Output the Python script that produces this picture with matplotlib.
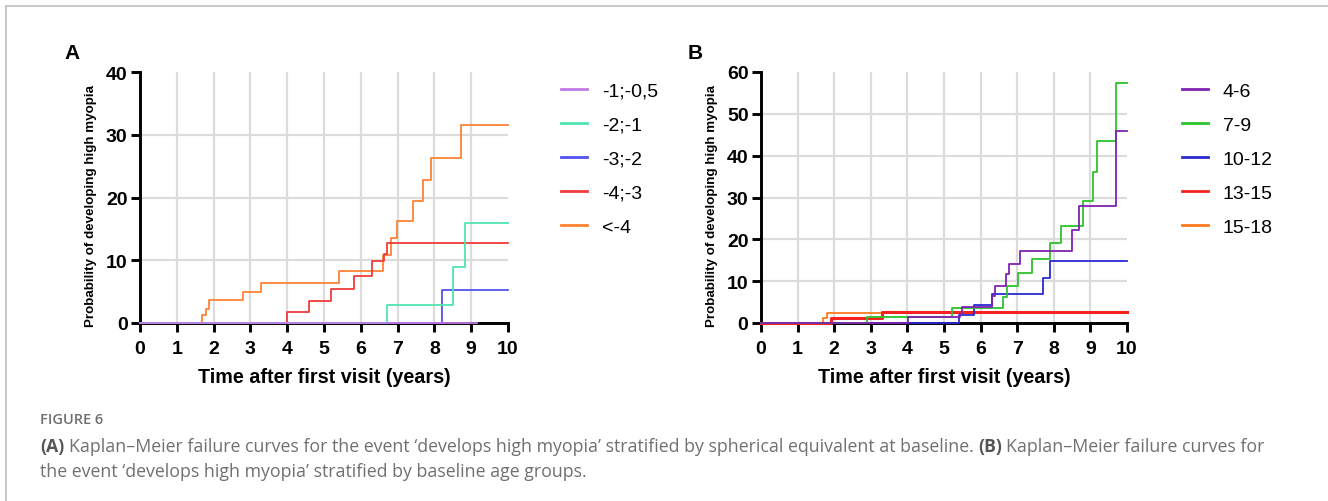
import matplotlib
matplotlib.use("Agg")
import matplotlib.pyplot as plt
from matplotlib.lines import Line2D
from matplotlib import font_manager

# ---- data ----
years = [0, 1, 2, 3, 4, 5, 6, 7, 8, 9, 10]

se_labels = ["-1;-0,5", "-2;-1", "-3;-2", "-4;-3", "<-4"]
se_colors = ["#c27ae6", "#4ee6ae", "#5252ee", "#f03c3c", "#ff8233"]
a_t1 = [0, 9.15]
a_v1 = [0, 0]
a_t2 = [0, 6.71, 8.51, 8.82, 10]
a_v2 = [0, 2.9, 9.0, 15.9, 15.9]
a_t3 = [0, 8.22, 10]
a_v3 = [0, 5.25, 5.25]
a_t4 = [0, 3.99, 4.60, 5.20, 5.82, 6.31, 6.63, 6.71, 10]
a_v4 = [0, 1.7, 3.5, 5.4, 7.5, 9.9, 11.0, 12.7, 12.7]
a_t5 = [0, 1.68, 1.78, 1.88, 2.80, 3.30, 5.40, 6.61, 6.81, 6.99, 7.41, 7.70, 7.91, 8.71, 10]
a_v5 = [0, 1.3, 2.3, 3.6, 4.9, 6.3, 8.3, 10.9, 13.6, 16.3, 19.5, 22.8, 26.3, 31.6, 31.6]

age_labels = ["4-6", "7-9", "10-12", "13-15", "15-18"]
age_colors = ["#7f22b0", "#2cc42c", "#2a2ad2", "#f52222", "#ff7a1e"]
b_t1 = [0, 4.01, 5.45, 5.49, 6.30, 6.38, 6.70, 6.78, 7.09, 8.51, 8.69, 9.71, 10]
b_v1 = [0, 1.4, 2.2, 3.75, 6.5, 8.9, 11.7, 14.2, 17.1, 22.2, 27.9, 46.0, 46.0]
b_t2 = [0, 2.89, 5.21, 6.61, 6.71, 7.03, 7.40, 7.90, 8.19, 8.79, 9.08, 9.19, 9.70, 10]
b_v2 = [0, 1.45, 3.5, 6.2, 8.8, 11.9, 15.3, 19.1, 23.3, 29.2, 36.2, 43.4, 57.4, 57.4]
b_t3 = [0, 5.40, 5.81, 6.30, 7.70, 7.90, 10]
b_v3 = [0, 1.9, 4.4, 6.9, 10.8, 14.8, 14.8]
b_t4 = [0, 1.91, 3.30, 10]
b_v4 = [0, 1.3, 2.7, 2.7]
b_t5 = [0, 1.70, 1.80, 10]
b_v5 = [0, 1.1, 2.4, 2.4]

# ---- fonts ----
installed = set(f.name for f in font_manager.fontManager.ttflist)
sans = "Liberation Sans"
cap_font = "Open Sans" if "Open Sans" in installed else "Noto Sans"
plt.rcParams["font.family"] = sans

W, H = 1328, 502
fig = plt.figure(figsize=(W / 100, H / 100), dpi=100)


def style_axes(ax, ymax, ystep):
    ax.set_xlim(0, 10)
    ax.set_ylim(0, ymax)
    ax.set_xticks(years)
    yt = list(range(0, ymax + 1, ystep))
    ax.set_yticks(yt)
    for s in ["top", "right"]:
        ax.spines[s].set_visible(False)
    for s in ["left", "bottom"]:
        ax.spines[s].set_linewidth(2.1)
    ax.tick_params(length=6.5, width=2.1, labelsize=14)
    ax.tick_params(axis="x", pad=6)
    ax.tick_params(axis="y", pad=2.5)
    for lab in ax.get_xticklabels() + ax.get_yticklabels():
        lab.set_fontweight("bold")
    for x in years[1:-1]:
        ax.axvline(x, color="#dcdcdc", lw=1.6, zorder=0)
    for y in yt[1:-1]:
        ax.axhline(y, color="#dcdcdc", lw=1.6, zorder=0)
    ax.set_xlabel("Time after first visit (years)", fontsize=14.2,
                  fontweight="bold", labelpad=7)
    ax.set_ylabel("Probability of developing high myopia", fontsize=9.6, fontweight="bold")


leg_kw = dict(loc="upper left", frameon=False, fontsize=14, handlelength=1.34,
              handletextpad=0.77, labelspacing=0.84, borderaxespad=0)

# ---- panel A ----
axA = fig.add_axes([140 / W, 1 - 324 / H, 368 / W, 251 / H])
style_axes(axA, 40, 10)
seriesA = [(a_t5, a_v5), (a_t4, a_v4), (a_t3, a_v3), (a_t2, a_v2), (a_t1, a_v1)]
colsA = se_colors[::-1]
for (t, v), c in zip(seriesA, colsA):
    axA.step(t, v, where="post", color=c, lw=1.3, zorder=3, clip_on=False)
axA.yaxis.set_label_coords(-43 / 368, 0.47)
handA = [Line2D([], [], color=c, lw=2) for c in se_colors]
fig.legend(handA, se_labels, bbox_to_anchor=(553 / W, 1 - 75.5 / H), **leg_kw)
fig.text(72.5 / W, 1 - 53.5 / H, "A", fontsize=15, fontweight="bold", ha="center", va="center")

# ---- panel B ----
axB = fig.add_axes([761 / W, 1 - 324 / H, 366 / W, 251 / H])
style_axes(axB, 60, 10)
seriesB = [(b_t5, b_v5, 1.3), (b_t4, b_v4, 2.2), (b_t3, b_v3, 1.3), (b_t2, b_v2, 1.3), (b_t1, b_v1, 1.3)]
colsB = age_colors[::-1]
for (t, v, lw), c in zip(seriesB, colsB):
    axB.step(t, v, where="post", color=c, lw=lw, zorder=3, clip_on=False)
axB.yaxis.set_label_coords(-43 / 366, 0.47)
handB = [Line2D([], [], color=c, lw=2) for c in age_colors]
fig.legend(handB, age_labels, bbox_to_anchor=(1174 / W, 1 - 75.5 / H), **leg_kw)
fig.text(695 / W, 1 - 53.5 / H, "B", fontsize=15, fontweight="bold", ha="center", va="center")

# ---- frame lines ----
fig.add_artist(Line2D([6 / W, 6 / W], [0, 1 - 7 / H], color="#c4c4c4", lw=1.3))
fig.add_artist(Line2D([6 / W, 1], [1 - 7 / H, 1 - 7 / H], color="#c4c4c4", lw=1.3))

# ---- caption ----
fig.text(40 / W, 1 - 420 / H, "FIGURE 6", fontsize=10.5, family=cap_font, fontweight="semibold",
         color="#6f6f6f", va="center")
renderer = fig.canvas.get_renderer()
gray = "#707070"
dark = "#555555"


def runs(x0, ypx, parts):
    x = x0
    for txt, bold in parts:
        t = fig.text(x / W, 1 - ypx / H, txt, fontsize=12.8, family=cap_font,
                     fontweight="bold" if bold else "normal",
                     color=dark if bold else gray, va="center")
        bb = t.get_window_extent(renderer)
        x += bb.width + 4.5


runs(40, 447, [("(A)", True),
               ("Kaplan\u2013Meier failure curves for the event \u2018develops high myopia\u2019 "
                "stratified by spherical equivalent at baseline.", False),
               ("(B)", True),
               ("Kaplan\u2013Meier failure curves for", False)])
runs(40, 472, [("the event \u2018develops high myopia\u2019 stratified by baseline age groups.", False)])

fig.savefig("out.png", dpi=100)
